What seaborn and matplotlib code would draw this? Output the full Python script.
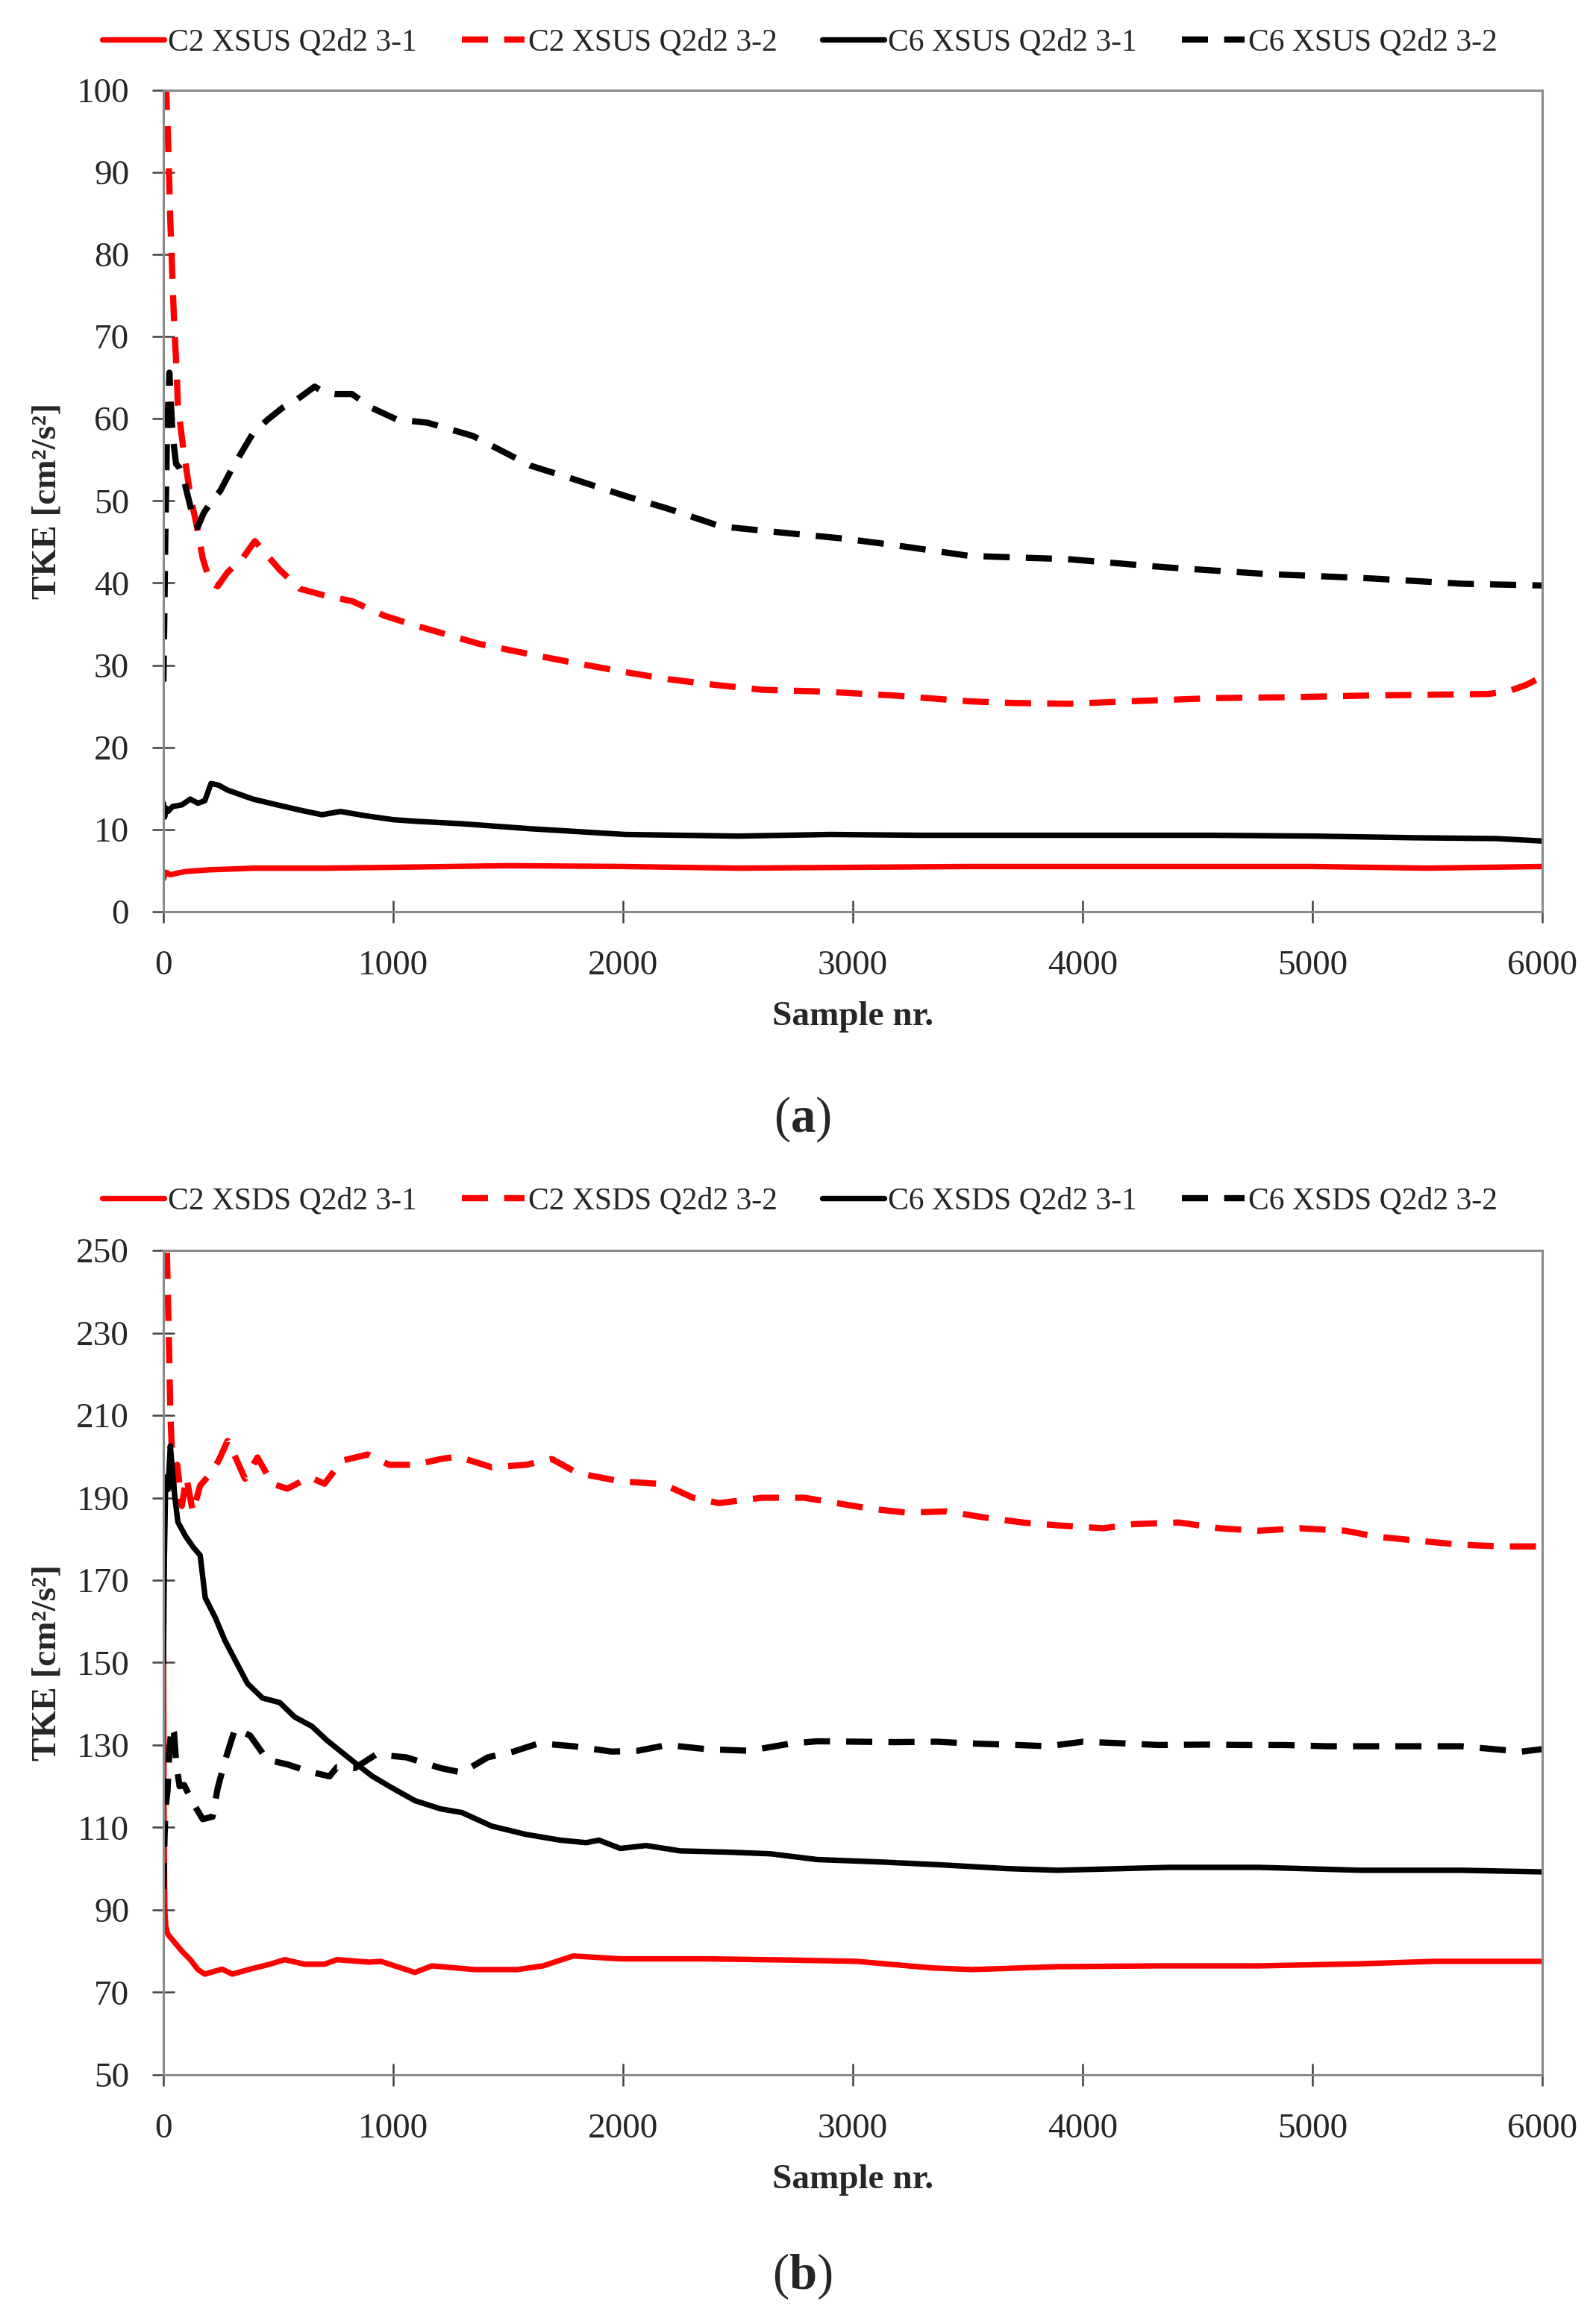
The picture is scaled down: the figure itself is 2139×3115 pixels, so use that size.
import numpy as np
import pandas as pd
import matplotlib
matplotlib.use("Agg")
import matplotlib.pyplot as plt
import seaborn as sns

# ---------------- data (panel a: XSUS) ----------------
a_c2_31_s = [0, 10, 30, 60, 100, 200, 400, 700, 1000, 1500, 2000, 2500, 3000, 3500, 4000, 4500, 5000, 5500, 6000]
a_c2_31_v = [4.0, 4.8, 4.5, 4.7, 4.9, 5.1, 5.3, 5.3, 5.4, 5.6, 5.5, 5.3, 5.4, 5.5, 5.5, 5.5, 5.5, 5.3, 5.5]

a_c2_32_s = [0, 12, 19, 30, 46, 57, 63, 84, 117, 144, 171, 203, 236, 279, 344, 398, 441, 506, 593, 712, 820,
             963, 1100, 1373, 1600, 1785, 2000, 2195, 2400, 2607, 2860, 3183, 3506, 3700, 3936, 4200, 4581,
             4900, 5227, 5500, 5765, 5850, 5930, 6000]
a_c2_32_v = [115, 100, 95, 84, 72, 66, 61.6, 56.9, 50.6, 47.1, 43, 40.1, 39.6, 41.3, 43, 45.1, 43.7, 41.6, 39.3,
             38.4, 37.8, 36.0, 34.8, 32.6, 31.3, 30.3, 29.2, 28.3, 27.6, 27.0, 26.8, 26.3, 25.6, 25.4, 25.3,
             25.6, 26.0, 26.1, 26.3, 26.4, 26.5, 26.8, 27.6, 28.6]

a_c6_31_s = [0, 5, 12, 20, 40, 80, 117, 150, 180, 207, 240, 279, 390, 495, 604, 690, 770, 874, 1000, 1100,
             1300, 1595, 2009, 2500, 2900, 3300, 3936, 4560, 5010, 5442, 5800, 6000]
a_c6_31_v = [13.2, 11.5, 12.6, 12.2, 12.8, 13.0, 13.7, 13.2, 13.5, 15.6, 15.4, 14.8, 13.7, 13.0, 12.3, 11.8,
             12.2, 11.7, 11.2, 11.0, 10.7, 10.1, 9.4, 9.2, 9.4, 9.3, 9.3, 9.3, 9.2, 9.0, 8.9, 8.6]

a_c6_32_s = [0, 4, 8, 12, 16, 20, 26, 32, 40, 55, 70, 85, 106, 125, 149, 175, 210, 247, 300, 387, 450, 517,
             580, 658, 700, 745, 820, 907, 1015, 1150, 1346, 1595, 1800, 2009, 2200, 2423, 2630, 2961, 3183,
             3506, 3936, 4366, 4795, 5227, 5656, 6000]
a_c6_32_v = [28, 36, 45, 52, 59, 61, 65.6, 62, 58, 54.5, 54, 53, 50.6, 48.5, 46.8, 48.5, 50, 51.2, 54, 58.1,
             59.8, 61.3, 62.3, 63.9, 63.2, 63.0, 63.0, 61.3, 59.9, 59.5, 57.9, 54.3, 52.5, 50.6, 49, 46.9,
             46.3, 45.4, 44.6, 43.3, 42.9, 41.9, 41.1, 40.6, 39.9, 39.7]

# ---------------- data (panel b: XSDS) ----------------
b_c2_31_s = [0, 3, 6, 10, 20, 50, 80, 117, 150, 180, 255, 300, 377, 463, 528, 614, 700, 755, 896, 945, 1094,
             1168, 1354, 1540, 1652, 1783, 1988, 2361, 2734, 3015, 3344, 3519, 3892, 4330, 4769, 5208, 5536, 6000]
b_c2_31_v = [160, 110, 90, 86, 84, 82, 80, 77.9, 75.5, 74.4, 75.6, 74.4, 75.6, 76.8, 77.9, 76.8, 76.8, 77.9,
             77.3, 77.5, 74.8, 76.4, 75.5, 75.5, 76.4, 78.8, 78.1, 78.1, 77.8, 77.5, 75.9, 75.5, 76.2, 76.4,
             76.4, 76.9, 77.5, 77.5]

b_c2_32_s = [0, 15, 25, 30, 35, 45, 60, 80, 100, 128, 160, 203, 240, 279, 320, 355, 409, 474, 539, 636, 701,
             777, 889, 982, 1094, 1206, 1280, 1429, 1578, 1690, 1802, 1988, 2175, 2305, 2417, 2603, 2790, 3081,
             3234, 3409, 3563, 3738, 3892, 4089, 4221, 4418, 4594, 4769, 4944, 5142, 5273, 5471, 5646, 5822, 6000]
b_c2_32_v = [270, 250, 225, 210.8, 203.8, 192, 198, 188, 195, 186.5, 193, 195.7, 199, 203.8, 199, 194.6,
             199.8, 193.4, 192.2, 195, 193.4, 199.0, 200.5, 198.0, 198.0, 199.4, 200.0, 197.4, 198, 199.4,
             196.0, 194.0, 193.3, 190.0, 188.7, 190.0, 190.0, 187.3, 186.4, 186.7, 185.3, 184.0, 183.3,
             182.6, 183.6, 184.0, 182.6, 182.0, 182.6, 182.0, 180.6, 179.5, 178.6, 178.2, 178.2]

b_c6_31_s = [0, 4, 10, 20, 30, 40, 50, 63, 96, 130, 160, 182, 225, 268, 312, 366, 431, 506, 571, 647, 712,
             777, 842, 907, 982, 1094, 1206, 1299, 1429, 1578, 1727, 1839, 1895, 1988, 2100, 2249, 2454, 2640,
             2845, 3124, 3388, 3672, 3892, 4375, 4769, 5208, 5646, 6000]
b_c6_31_v = [150, 175, 195, 192, 202.6, 196, 190, 184.1, 180.7, 178, 176, 165.7, 161, 155.3, 150.6, 144.9,
             141.4, 140.3, 136.8, 134.5, 131.1, 128.2, 125.3, 122.5, 120.0, 116.5, 114.5, 113.6, 110.3, 108.3,
             106.9, 106.3, 106.9, 104.9, 105.6, 104.3, 104.0, 103.6, 102.2, 101.6, 100.9, 100.0, 99.6, 100.3,
             100.3, 99.6, 99.6, 99.2]

b_c6_32_s = [0, 5, 10, 18, 25, 35, 46, 55, 70, 90, 128, 171, 214, 236, 269, 312, 377, 452, 539, 636, 723,
             755, 833, 925, 1057, 1206, 1299, 1411, 1522, 1634, 1783, 1951, 2063, 2193, 2361, 2547, 2734, 2845,
             3015, 3190, 3366, 3497, 3717, 3848, 4002, 4177, 4330, 4550, 4704, 4879, 5054, 5208, 5427, 5646,
             5909, 6000]
b_c6_32_v = [95, 108, 115, 119, 128, 134.5, 133, 126, 120, 120.3, 116, 112, 112.6, 119.5, 126.4, 134, 132.3,
             126.4, 125.3, 123.5, 122.4, 124.6, 124.4, 127.7, 127.0, 124.4, 123.3, 127.0, 128.4, 130.4, 129.7,
             128.4, 128.6, 130.0, 129.0, 128.6, 130.4, 130.9, 130.8, 130.7, 130.8, 130.4, 130.0, 129.7, 130.8,
             130.4, 130.0, 130.1, 130.0, 130.0, 129.7, 129.7, 129.7, 129.7, 128.4, 129.0]

labels_a = ["C2 XSUS Q2d2 3-1", "C2 XSUS Q2d2 3-2", "C6 XSUS Q2d2 3-1", "C6 XSUS Q2d2 3-2"]
labels_b = ["C2 XSDS Q2d2 3-1", "C2 XSDS Q2d2 3-2", "C6 XSDS Q2d2 3-1", "C6 XSDS Q2d2 3-2"]
x_ticks = [0, 1000, 2000, 3000, 4000, 5000, 6000]
y_ticks_a = list(range(0, 101, 10))
y_ticks_b = list(range(50, 251, 20))
y_label = "TKE [cm²/s²]"
x_label = "Sample nr."

# ---------------- style ----------------
sns.set_theme(style="white")
plt.rcParams["font.family"] = ["Liberation Serif", "DejaVu Serif"]
plt.rcParams["mathtext.fontset"] = "custom"
plt.rcParams["mathtext.rm"] = "Liberation Serif"
plt.rcParams["mathtext.bf"] = "Liberation Serif:bold"
plt.rcParams["mathtext.it"] = "Liberation Serif:italic"

RED = "#FF0000"
BLACK = "#000000"
DASH = (0, (4.2, 2.6))
SPINE = "#8a8a8a"
TXT = "#262626"

fig = plt.figure(figsize=(21.39, 31.15), dpi=100)
ax_a = fig.add_axes([0.1024, 0.6077, 0.8640, 0.3536])
ax_b = fig.add_axes([0.1024, 0.1073, 0.8640, 0.3546])


def draw(ax, series, labels, yticks, ylim):
    styles = [(RED, "-", 5.3), (RED, DASH, 6.0), (BLACK, "-", 5.3), (BLACK, DASH, 6.0)]
    for (s, v), lab, (c, ls, lw) in zip(series, labels, styles):
        df = pd.DataFrame({"s": s, "v": v})
        sns.lineplot(data=df, x="s", y="v", ax=ax, color=c, linestyle=ls, linewidth=lw,
                     label=lab, sort=False, estimator=None, errorbar=None)
    ax.set_xlim(0, 6000)
    ax.set_ylim(*ylim)
    ax.set_xticks(x_ticks)
    ax.set_yticks(yticks)
    ax.tick_params(axis="both", which="major", direction="inout", length=22, width=1.8,
                   color="#404040", labelsize=34, labelcolor=TXT,
                   bottom=True, left=True)
    ax.tick_params(axis="x", pad=26)
    ax.tick_params(axis="y", pad=22)
    for sp in ax.spines.values():
        sp.set_visible(True)
        sp.set_color(SPINE)
        sp.set_linewidth(2.2)
    ax.set_xlabel(x_label, fontsize=34, fontweight="bold", color=TXT)
    ax.set_ylabel(y_label, fontsize=34, fontweight="bold", color=TXT)
    ax.xaxis.set_label_coords(0.5, -0.128)
    ax.xaxis.label.set_va("center")
    ax.yaxis.set_label_coords(-0.0844, 0.5)
    ax.yaxis.label.set_va("center")
    ax.grid(False)
    leg = ax.legend_
    if leg is not None:
        leg.remove()


draw(ax_a, [(a_c2_31_s, a_c2_31_v), (a_c2_32_s, a_c2_32_v), (a_c6_31_s, a_c6_31_v), (a_c6_32_s, a_c6_32_v)],
     labels_a, y_ticks_a, (0, 100))
draw(ax_b, [(b_c2_31_s, b_c2_31_v), (b_c2_32_s, b_c2_32_v), (b_c6_31_s, b_c6_31_v), (b_c6_32_s, b_c6_32_v)],
     labels_b, y_ticks_b, (50, 250))

for ax, yc in [(ax_a, 0.9817), (ax_b, 0.4831)]:
    h, l = ax.get_legend_handles_labels()
    fig.legend(h, l, loc="center", bbox_to_anchor=(0.501, yc), ncol=4, frameon=False,
               fontsize=30, handlelength=2.0, handletextpad=0.12, columnspacing=1.45,
               labelcolor=TXT, borderaxespad=0)

fig.text(0.5026, 0.5185, r"($\mathbf{a}$)", fontsize=48, ha="center", va="center", color=TXT)
fig.text(0.5026, 0.0205, r"($\mathbf{b}$)", fontsize=48, ha="center", va="center", color=TXT)

fig.savefig("out.png", dpi=100, facecolor="white")
